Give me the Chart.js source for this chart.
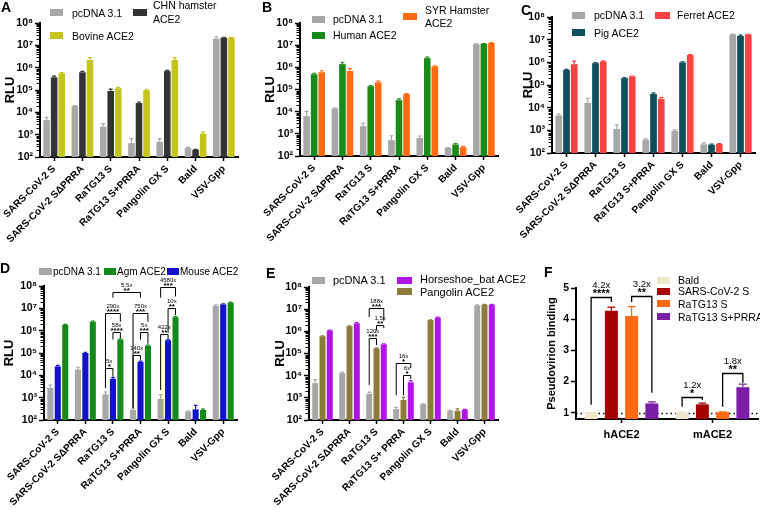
<!DOCTYPE html>
<html>
<head>
<meta charset="utf-8">
<script src="https://cdn.jsdelivr.net/npm/chart.js@4.4.1/dist/chart.umd.min.js"></script>
<style>
  body { margin: 0; background: #fff; }
  #fig { position: relative; width: 760px; height: 510px; overflow: hidden; font-family: "Liberation Sans", Arial, sans-serif; color: #000; }
  #fig canvas { position: absolute; }
  .tag { position: absolute; font-weight: bold; font-size: 14px; line-height: 14px; }
  .key { position: absolute; height: 7px; }
  .name { position: absolute; font-size: 10.5px; line-height: 13px; white-space: nowrap; }
</style>
</head>
<body>
<div id="fig">
  <canvas id="cA" width="245" height="260" style="left:0;top:0"></canvas>
  <canvas id="cB" width="250" height="260" style="left:250px;top:0"></canvas>
  <canvas id="cC" width="255" height="260" style="left:505px;top:0"></canvas>
  <canvas id="cD" width="245" height="255" style="left:0;top:255px"></canvas>
  <canvas id="cE" width="250" height="255" style="left:250px;top:255px"></canvas>
  <canvas id="cF" width="255" height="255" style="left:505px;top:255px"></canvas>
</div>
<script>
// ---- data ----
const categories = ['SARS-CoV-2 S', 'SARS-CoV-2 SΔPRRA', 'RaTG13 S', 'RaTG13 S+PRRA', 'Pangolin GX S', 'Bald', 'VSV-Gpp'];
const categoriesE = ['SARS-CoV-2 S', 'SARS-CoV-2 SΔPRRA', 'RaTG13 S', 'RaTG13 S+ PRRA', 'Pangolin GX S', 'Bald', 'VSV-Gpp'];
const groupsF = ['hACE2', 'mACE2'];

const logTicks = [1e2, 1e3, 1e4, 1e5, 1e6, 1e7, 1e8];
const logTickLabels = ['10²', '10³', '10⁴', '10⁵', '10⁶', '10⁷', '10⁸'];
const fTicks = [1, 2, 3, 4, 5];

// A
const pcdnaA = [4500, 19000, 2300, 420, 470, 250, 2.0e7];
const pcdnaAErr = [1500, 1000, 800, 250, 200, 20, 4e6];
const chnHamsterA = [3.7e5, 6.2e5, 9e4, 2.6e4, 7e5, 210, 2.2e7];
const chnHamsterAErr = [5e4, 6e4, 2e4, 3e3, 5e4, 10, 1e6];
const bovineA = [5.6e5, 2.2e6, 1.2e5, 9.8e4, 2.2e6, 1100, 2.2e7];
const bovineAErr = [4e4, 6e5, 1e4, 1e4, 6e5, 200, 5e5];

// B
const pcdnaB = [6300, 14000, 2200, 520, 650, 230, 1.1e7];
const pcdnaBErr = [4000, 1000, 800, 300, 150, 10, 5e5];
const humanB = [4.9e5, 1.4e6, 1.4e5, 3.3e4, 2.6e6, 330, 1.15e7];
const humanBErr = [5e4, 3e5, 1e4, 5e3, 3e5, 30, 3e5];
const syrHamsterB = [6e5, 6.8e5, 2.1e5, 6.2e4, 1.1e6, 250, 1.25e7];
const syrHamsterBErr = [1e5, 2e5, 3e4, 3e3, 6e4, 20, 6e5];

// C
const pcdnaC = [4500, 16000, 1150, 380, 950, 240, 1.7e7];
const pcdnaCErr = [700, 10000, 600, 40, 100, 40, 6e5];
const pigC = [4.6e5, 9.2e5, 2e5, 4e4, 1e6, 230, 1.45e7];
const pigCErr = [3e4, 6e4, 1e4, 5e3, 6e4, 15, 1.5e6];
const ferretC = [8.3e5, 1.1e6, 2.4e5, 2.4e4, 2.1e6, 250, 1.7e7];
const ferretCErr = [3e5, 6e4, 1e4, 4e3, 1e5, 10, 3e5];

// D
const pcdnaD = [2700, 18000, 1400, 280, 870, 240, 1.3e7];
const pcdnaDErr = [1000, 5000, 400, 50, 500, 10, 1.5e6];
const mouseD = [2.5e4, 1e5, 6900, 4e4, 3.7e5, 300, 1.5e7];
const mouseDErr = [3e3, 8e3, 1e3, 3e3, 3e4, 150, 1e6];
const agmD = [1.8e6, 2.5e6, 4e5, 2.1e5, 4e6, 280, 1.8e7];
const agmDErr = [1e5, 2e5, 3e4, 1.5e4, 3e5, 30, 1e6];
// [cat1, series1, cat2, series2, bracket, leg1 end, leg2 end, ratio, significance]
const bracketsD = [
  [2, 0, 2, 1, 2.1e4, 2.7e3, 8.5e3, '5x', '*'],
  [2, 1, 2, 2, 9e5, 4e5, 4.6e5, '58x', '****'],
  [2, 0, 2, 2, 6.3e6, 2.7e3, 2.5e6, '290x', '****'],
  [3, 0, 3, 1, 8e4, 350, 5e4, '140x', '**'],
  [3, 1, 3, 2, 9e5, 4e5, 2.6e5, '5x', '***'],
  [3, 0, 3, 2, 6.3e6, 350, 2.5e6, '750x', '***'],
  [2, 1, 3, 1, 5.5e7, 3e7, 3e7, '5.5x', '**'],
  [4, 0, 4, 1, 7.2e5, 2.2e3, 4.3e5, '422x', '**'],
  [4, 1, 4, 2, 1.05e7, 7.9e5, 5e6, '10x', '**'],
  [4, 0, 4, 2, 9.1e7, 3e7, 3.4e7, '4580x', '***']
];

// E
const pcdnaE = [4600, 13000, 1500, 310, 520, 260, 1.5e7];
const pcdnaEErr = [2000, 1500, 300, 60, 20, 10, 5e5];
const pangolinE = [6e5, 1.7e6, 1.7e5, 800, 3.2e6, 260, 1.6e7];
const pangolinEErr = [3e4, 8e4, 1e4, 250, 1e5, 60, 5e5];
const batE = [1.1e6, 2.3e6, 2.6e5, 5000, 4.2e6, 290, 1.6e7];
const batEErr = [5e4, 1.5e5, 1.5e4, 1e3, 2e5, 10, 6e5];
const bracketsE = [
  [2, 0, 2, 1, 4.9e5, 3.8e3, 2.4e5, '120x', '***'],
  [2, 1, 2, 2, 1.9e6, 1.1e6, 1.4e6, '1.5x', '**'],
  [2, 0, 2, 2, 1.1e7, 4.4e6, 3e6, '188x', '***'],
  [3, 1, 3, 2, 1.07e4, 1.3e3, 7e3, '6x', '*'],
  [3, 0, 3, 2, 3.7e4, 1.3e3, 2.2e4, '16x', '*']
];

// F
const baldF = [1.0, 1.02];
const baldFErr = [0.01, 0.01];
const sarsF = [4.27, 1.27];
const sarsFErr = [0.12, 0.04];
const ratg13F = [4.1, 1.02];
const ratg13FErr = [0.3, 0.01];
const prraF = [1.3, 1.82];
const prraFErr = [0.05, 0.1];
const bracketsF = [
  [0, 0, 0, 1, 4.71, 1.26, 4.55, '4.2x', '****'],
  [0, 2, 0, 3, 4.74, 4.55, 1.64, '3.2x', '**'],
  [1, 0, 1, 1, 1.52, 1.19, 1.42, '1.2x', '*'],
  [1, 2, 1, 3, 2.28, 1.19, 1.96, '1.8x', '**']
];

// ---- colours ----
const GRAY = '#a7a7aa';

Chart.defaults.font.family = '"Liberation Sans", Arial, sans-serif';
Chart.defaults.color = '#000';

function barX(chart, cat, ds) {
  return chart.getDatasetMeta(ds).data[cat].x;
}

const errorBars = {
  id: 'errorBars',
  afterDatasetsDraw(chart) {
    const ctx = chart.ctx, ys = chart.scales.y;
    chart.data.datasets.forEach((ds, i) => {
      chart.getDatasetMeta(i).data.forEach((bar, j) => {
        const top = ys.getPixelForValue(ds.data[j] + ds.err[j]);
        const cap = bar.width * 0.3;
        ctx.save();
        ctx.strokeStyle = ds.backgroundColor;
        ctx.lineWidth = 1.2;
        ctx.beginPath();
        ctx.moveTo(bar.x, bar.y);
        ctx.lineTo(bar.x, top);
        ctx.moveTo(bar.x - cap, top);
        ctx.lineTo(bar.x + cap, top);
        ctx.stroke();
        ctx.restore();
      });
    });
  }
};

const minorTicks = {
  id: 'minorTicks',
  afterDraw(chart) {
    const ys = chart.scales.y, ctx = chart.ctx, x = chart.chartArea.left;
    ctx.save();
    ctx.strokeStyle = '#000';
    ctx.lineWidth = 1;
    for (let e = 2; e < 8; e++) {
      for (let m = 2; m < 10; m++) {
        const y = Math.round(ys.getPixelForValue(m * Math.pow(10, e))) + 0.5;
        ctx.beginPath();
        ctx.moveTo(x - 1, y);
        ctx.lineTo(x - 3.5, y);
        ctx.stroke();
      }
    }
    ctx.restore();
  }
};

const dottedOne = {
  id: 'dottedOne',
  beforeDatasetsDraw(chart) {
    const { ctx, chartArea: a, scales: { y } } = chart;
    const py = Math.round(y.getPixelForValue(1)) + 0.5;
    ctx.save();
    ctx.setLineDash([1.5, 3]);
    ctx.lineWidth = 1.5;
    ctx.strokeStyle = '#000';
    ctx.beginPath();
    ctx.moveTo(a.left, py);
    ctx.lineTo(a.right, py);
    ctx.stroke();
    ctx.restore();
  }
};

function bracketPlugin(list, fs) {
  return {
    id: 'brackets',
    afterDraw(chart) {
      const ctx = chart.ctx, ys = chart.scales.y;
      ctx.save();
      ctx.strokeStyle = '#000';
      ctx.fillStyle = '#000';
      ctx.lineWidth = fs.line;
      ctx.textAlign = 'center';
      ctx.textBaseline = 'alphabetic';
      list.forEach(([c1, d1, c2, d2, y, b1, b2, ratio, stars]) => {
        const x1 = barX(chart, c1, d1), x2 = barX(chart, c2, d2);
        const py = Math.round(ys.getPixelForValue(y)) + 0.5;
        ctx.beginPath();
        ctx.moveTo(x1, ys.getPixelForValue(b1));
        ctx.lineTo(x1, py);
        ctx.lineTo(x2, py);
        ctx.lineTo(x2, ys.getPixelForValue(b2));
        ctx.stroke();
        const xm = (x1 + x2) / 2;
        ctx.font = fs.ratio + 'px "Liberation Sans", Arial';
        ctx.fillText(ratio, xm, py - fs.rOff);
        ctx.font = 'bold ' + fs.star + 'px "Liberation Sans", Arial';
        ctx.fillText(stars, xm, py + fs.sOff);
      });
      ctx.restore();
    }
  };
}

function makeChart(id, labels, sets, lay, extra) {
  const yLog = {
    type: 'logarithmic', min: 1e2, max: 1e8,
    afterBuildTicks: s => { s.ticks = logTicks.map(v => ({ value: v })); },
    ticks: { font: { weight: 'bold', size: 10.5 }, padding: 2, callback: v => logTickLabels[logTicks.indexOf(v)] },
    title: { display: true, text: 'RLU', font: { weight: 'bold', size: 13 }, padding: { top: lay.tp, bottom: 0 } }
  };
  const yLin = {
    type: 'linear', min: 0.8, max: 5,
    afterBuildTicks: s => { s.ticks = fTicks.map(v => ({ value: v })); },
    ticks: { font: { weight: 'bold', size: 10.5 }, padding: 2 },
    title: { display: true, text: 'Pseudovirion binding', font: { weight: 'bold', size: 11 }, padding: { top: lay.tp, bottom: 0 } }
  };
  const y = Object.assign(lay.log ? yLog : yLin, {
    grid: { drawOnChartArea: false, tickLength: 5, tickWidth: 1.5, tickColor: '#000' },
    border: { color: '#000', width: 2 },
    afterFit: s => { s.width = lay.yw; }
  });
  return new Chart(document.getElementById(id), {
    type: 'bar',
    data: {
      labels: labels,
      datasets: sets.map(s => ({
        label: s.label, data: s.data, err: s.err,
        backgroundColor: s.color, borderWidth: 0, clip: 0,
        categoryPercentage: lay.cp, barPercentage: lay.bp
      }))
    },
    options: {
      responsive: false,
      animation: false,
      layout: { padding: { top: lay.top, right: lay.right, left: 0, bottom: 0 } },
      plugins: { legend: { display: false }, tooltip: { enabled: false } },
      scales: {
        x: {
          grid: { drawOnChartArea: false, offset: false, tickLength: 4, tickWidth: 1.5, tickColor: '#000' },
          border: { color: '#000', width: 2 },
          ticks: { autoSkip: false, minRotation: lay.rot, maxRotation: lay.rot, padding: lay.xpad, font: { weight: 'bold', size: lay.xFont } },
          afterFit: s => { s.height = lay.xh; }
        },
        y: y
      }
    },
    plugins: extra
  });
}

const fig = document.getElementById('fig');
function tag(t, x, y) {
  const d = document.createElement('div');
  d.className = 'tag'; d.textContent = t;
  d.style.left = x + 'px'; d.style.top = y + 'px';
  fig.appendChild(d);
}
function key(name, color, x, y, w, tx, ty, lh, fsz) {
  const k = document.createElement('div');
  k.className = 'key';
  k.style.left = x + 'px'; k.style.top = y + 'px'; k.style.width = w + 'px'; k.style.background = color;
  fig.appendChild(k);
  const n = document.createElement('div');
  n.className = 'name';
  n.innerHTML = name;
  n.style.left = tx + 'px'; n.style.top = ty + 'px';
  if (lh) n.style.lineHeight = lh + 'px';
  if (fsz) n.style.fontSize = fsz + 'px';
  fig.appendChild(n);
}

const brD = { line: 1, ratio: 6, star: 8, rOff: 6, sOff: 0.5 };
const brF = { line: 1.3, ratio: 9.5, star: 11, rOff: 10, sOff: -1 };

// A
makeChart('cA', categories, [
  { label: 'pcDNA 3.1', data: pcdnaA, err: pcdnaAErr, color: GRAY },
  { label: 'CHN hamster ACE2', data: chnHamsterA, err: chnHamsterAErr, color: '#333333' },
  { label: 'Bovine ACE2', data: bovineA, err: bovineAErr, color: '#c4c41c' }
], { log: true, top: 23, right: 7, yw: 40, xh: 103, tp: 3, rot: 45, xFont: 10, xpad: 2, cp: 0.8, bp: 0.87 },
[errorBars, minorTicks]);
tag('A', 1, 0);
key('pcDNA 3.1', GRAY, 50, 9, 13, 72, 6.5);
key('CHN hamster<br>ACE2', '#333333', 133, 9, 14, 153, -2, 14);
key('Bovine ACE2', '#c4c41c', 50, 32, 13, 72, 29.5);

// B
makeChart('cB', categories, [
  { label: 'pcDNA 3.1', data: pcdnaB, err: pcdnaBErr, color: GRAY },
  { label: 'Human ACE2', data: humanB, err: humanBErr, color: '#1a8a1a' },
  { label: 'SYR Hamster ACE2', data: syrHamsterB, err: syrHamsterBErr, color: '#ff6a12' }
], { log: true, top: 23, right: 2, yw: 50, xh: 104, tp: 13, rot: 45, xFont: 10, xpad: 2, cp: 0.8, bp: 0.87 },
[errorBars, minorTicks]);
tag('B', 262, 0);
key('pcDNA 3.1', GRAY, 312, 16, 13, 333, 13);
key('SYR Hamster<br>ACE2', '#ff6a12', 403, 13, 14, 425, 3.5);
key('Human ACE2', '#1a8a1a', 312, 32, 13, 333, 29);

// C
makeChart('cC', categories, [
  { label: 'pcDNA 3.1', data: pcdnaC, err: pcdnaCErr, color: GRAY },
  { label: 'Pig ACE2', data: pigC, err: pigCErr, color: '#0e4f5e' },
  { label: 'Ferret ACE2', data: ferretC, err: ferretCErr, color: '#f54343' }
], { log: true, top: 17, right: 5, yw: 47, xh: 107, tp: 16, rot: 45, xFont: 10, xpad: 2, cp: 0.8, bp: 0.87 },
[errorBars, minorTicks]);
tag('C', 521, 3);
key('pcDNA 3.1', GRAY, 572, 12, 13, 594, 9);
key('Ferret ACE2', '#f54343', 655, 12, 15, 677, 9);
key('Pig ACE2', '#0e4f5e', 572, 29, 13, 594, 26.5);

// D
makeChart('cD', categories, [
  { label: 'pcDNA 3.1', data: pcdnaD, err: pcdnaDErr, color: GRAY },
  { label: 'Mouse ACE2', data: mouseD, err: mouseDErr, color: '#1212c8' },
  { label: 'Agm ACE2', data: agmD, err: agmDErr, color: '#138a1a' }
], { log: true, top: 31, right: 8, yw: 44, xh: 90, tp: 2, rot: 45, xFont: 10, xpad: 2, cp: 0.81, bp: 0.82 },
[errorBars, minorTicks, bracketPlugin(bracketsD, brD)]);
tag('D', 0, 261);
key('pcDNA 3.1', GRAY, 39, 268, 13, 53, 265, 13, 10);
key('Agm ACE2', '#138a1a', 104, 268, 12, 117, 265, 13, 10);
key('Mouse ACE2', '#1212c8', 167, 268, 12, 180, 265, 13, 10);

// E
makeChart('cE', categoriesE, [
  { label: 'pcDNA 3.1', data: pcdnaE, err: pcdnaEErr, color: GRAY },
  { label: 'Pangolin ACE2', data: pangolinE, err: pangolinEErr, color: '#8c7b3a' },
  { label: 'Horseshoe_bat ACE2', data: batE, err: batEErr, color: '#b014e8' }
], { log: true, top: 32, right: 2, yw: 59, xh: 90, tp: 23, rot: 45, xFont: 10, xpad: 2, cp: 0.81, bp: 0.82 },
[errorBars, minorTicks, bracketPlugin(bracketsE, brD)]);
tag('E', 266, 266);
key('pcDNA 3.1', GRAY, 312, 277, 13, 333, 274, 13, 11);
key('Horseshoe_bat ACE2', '#b014e8', 397, 277, 15, 420, 272.5, 13, 11);
key('Pangolin ACE2', '#8c7b3a', 397, 288, 15, 420, 285.5, 13, 11);

// F
makeChart('cF', groupsF, [
  { label: 'Bald', data: baldF, err: baldFErr, color: '#eee8cd' },
  { label: 'SARS-CoV-2 S', data: sarsF, err: sarsFErr, color: '#a30000' },
  { label: 'RaTG13 S', data: ratg13F, err: ratg13FErr, color: '#ff6a12' },
  { label: 'RaTG13 S+PRRA', data: prraF, err: prraFErr, color: '#7b1ea6' }
], { log: false, top: 33, right: 2, yw: 71, xh: 91, tp: 40, rot: 0, xFont: 11, xpad: 5, cp: 0.89, bp: 0.64 },
[dottedOne, errorBars, bracketPlugin(bracketsF, brF)]);
tag('F', 544, 265);
key('Bald', '#eee8cd', 657, 277, 13, 678, 273.5);
key('SARS-CoV-2 S', '#a30000', 657, 288, 13, 678, 285);
key('RaTG13 S', '#ff6a12', 657, 300, 13, 678, 297.5);
key('RaTG13 S+PRRA', '#7b1ea6', 657, 313, 13, 678, 310.5);
</script>
</body>
</html>
